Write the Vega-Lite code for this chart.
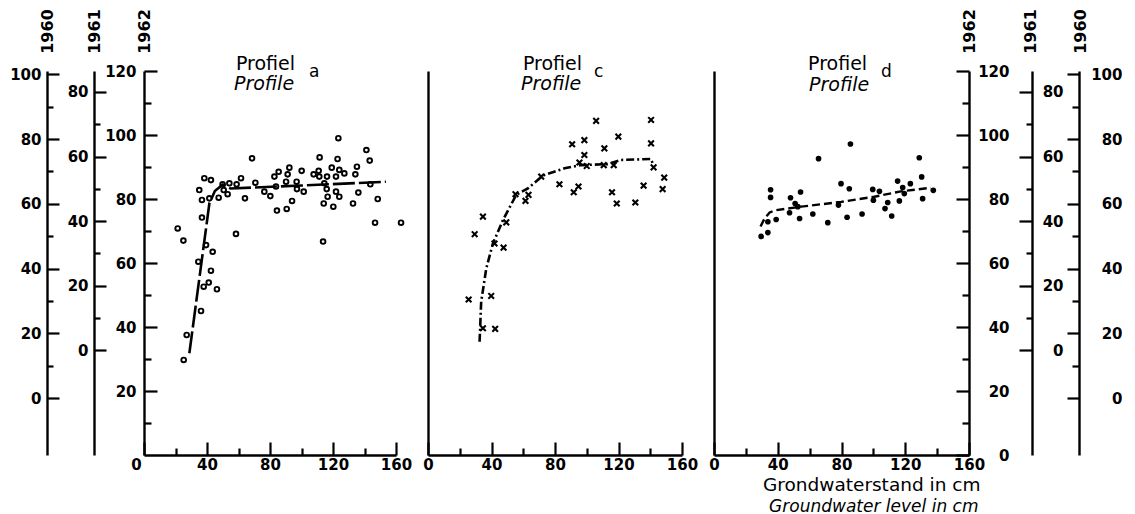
{
  "$schema": "https://vega.github.io/schema/vega-lite/v6.json",
  "padding": {"left": 9, "top": 8, "right": 0, "bottom": 0},
  "spacing": 32,
  "bounds": "flush",
  "datasets": {
    "ap": [
      {"x": 21.4, "y": 70.8}, {"x": 25, "y": 67}, {"x": 25.2, "y": 29.7}, {"x": 27.1, "y": 37.5},
      {"x": 35.1, "y": 82.8}, {"x": 36.8, "y": 79.7}, {"x": 36.8, "y": 74.2}, {"x": 38.3, "y": 86.5},
      {"x": 42.5, "y": 85.9}, {"x": 34.5, "y": 60.4}, {"x": 39.4, "y": 65.6}, {"x": 43.6, "y": 63.5},
      {"x": 42.5, "y": 57.6}, {"x": 41.1, "y": 53.9}, {"x": 37.9, "y": 52.6}, {"x": 46.3, "y": 51.8},
      {"x": 36.2, "y": 45}, {"x": 41.5, "y": 80.2}, {"x": 47.4, "y": 80.4}, {"x": 49.9, "y": 84.6},
      {"x": 50.6, "y": 82.8}, {"x": 53.1, "y": 81.5}, {"x": 54.2, "y": 84.9}, {"x": 58.8, "y": 84.6},
      {"x": 61.6, "y": 86.5}, {"x": 58.4, "y": 69.1}, {"x": 64.1, "y": 80.2}, {"x": 68.6, "y": 92.7},
      {"x": 70.7, "y": 85.1}, {"x": 76.4, "y": 82.3}, {"x": 80.2, "y": 80.9}, {"x": 83.8, "y": 83.9},
      {"x": 82.8, "y": 87}, {"x": 85.5, "y": 88.5}, {"x": 84.4, "y": 76.4}, {"x": 90.6, "y": 76.9},
      {"x": 91.2, "y": 87.7}, {"x": 92.3, "y": 89.8}, {"x": 90.2, "y": 85.4}, {"x": 94, "y": 79.4},
      {"x": 96.9, "y": 85.4}, {"x": 97.1, "y": 83.1}, {"x": 100.1, "y": 88.8}, {"x": 101.4, "y": 82.3},
      {"x": 107.7, "y": 87.7}, {"x": 110.9, "y": 88.8}, {"x": 111.5, "y": 93}, {"x": 111.3, "y": 87},
      {"x": 114.5, "y": 84.9}, {"x": 114.1, "y": 78.6}, {"x": 113.7, "y": 66.7}, {"x": 116, "y": 83.1},
      {"x": 116.2, "y": 87}, {"x": 116.6, "y": 80.7}, {"x": 119.2, "y": 89.8}, {"x": 120.2, "y": 77.6},
      {"x": 121.9, "y": 87}, {"x": 121.9, "y": 82.3}, {"x": 122.9, "y": 92.5}, {"x": 123.4, "y": 99},
      {"x": 124, "y": 89.1}, {"x": 124, "y": 80.7}, {"x": 127.2, "y": 88}, {"x": 132.7, "y": 78.6},
      {"x": 134.2, "y": 87.7}, {"x": 135.2, "y": 90.1}, {"x": 136.1, "y": 82}, {"x": 141.2, "y": 95.3},
      {"x": 143.3, "y": 92}, {"x": 143.7, "y": 84.6}, {"x": 148.4, "y": 80}, {"x": 146.7, "y": 72.6},
      {"x": 163.2, "y": 72.6}
    ],
    "al": [
      {"x": 28.8, "y": 31.8}, {"x": 41.5, "y": 78.6}, {"x": 45, "y": 82.5}, {"x": 50, "y": 84.5},
      {"x": 55, "y": 83.3}, {"x": 100, "y": 84.2}, {"x": 153.6, "y": 85.4}
    ],
    "cp": [
      {"x": 25.6, "y": 48.6}, {"x": 29.4, "y": 69}, {"x": 34.6, "y": 74.5}, {"x": 34.6, "y": 39.6},
      {"x": 39.8, "y": 49.7}, {"x": 42.3, "y": 39.4}, {"x": 41.9, "y": 66.1}, {"x": 47.6, "y": 64.8},
      {"x": 49.3, "y": 72.7}, {"x": 55.1, "y": 81.5}, {"x": 61.4, "y": 79.4}, {"x": 63.3, "y": 81.3},
      {"x": 71.3, "y": 87}, {"x": 82.8, "y": 84.6}, {"x": 90.8, "y": 97.1}, {"x": 91.8, "y": 82.1},
      {"x": 94.8, "y": 83.9}, {"x": 95.4, "y": 91.4}, {"x": 98.5, "y": 98.4}, {"x": 98.5, "y": 93.75},
      {"x": 100, "y": 90.3}, {"x": 105.9, "y": 104.4}, {"x": 111.1, "y": 95.8}, {"x": 110.7, "y": 90.6},
      {"x": 117, "y": 90.6}, {"x": 119.9, "y": 99.5}, {"x": 115.9, "y": 82.1}, {"x": 118.9, "y": 78.6},
      {"x": 130.6, "y": 78.9}, {"x": 135.8, "y": 84.2}, {"x": 140.5, "y": 104.7}, {"x": 140.5, "y": 97.4},
      {"x": 142.1, "y": 89.9}, {"x": 148.8, "y": 86.7}, {"x": 147.8, "y": 83.1}
    ],
    "cl": [
      {"x": 32.5, "y": 35.4}, {"x": 33.5, "y": 47.9}, {"x": 36.7, "y": 58.3}, {"x": 40.9, "y": 66.1},
      {"x": 47.2, "y": 73.4}, {"x": 55.6, "y": 81.3}, {"x": 62.9, "y": 83.3}, {"x": 72.3, "y": 87.3},
      {"x": 86, "y": 89.6}, {"x": 96.4, "y": 90.6}, {"x": 113.2, "y": 90.9}, {"x": 121.6, "y": 92.2},
      {"x": 140.5, "y": 92.5}, {"x": 141.9, "y": 90.6}
    ],
    "dp": [
      {"x": 29.6, "y": 68.3}, {"x": 33.8, "y": 69.5}, {"x": 33.8, "y": 72.9}, {"x": 35.5, "y": 82.9},
      {"x": 35.5, "y": 80.5}, {"x": 39, "y": 73.6}, {"x": 48, "y": 80.4}, {"x": 47.4, "y": 75.7},
      {"x": 50.9, "y": 78.6}, {"x": 52.6, "y": 77.6}, {"x": 53.7, "y": 73.9}, {"x": 54.3, "y": 82.2},
      {"x": 62, "y": 75.3}, {"x": 65.6, "y": 92.6}, {"x": 71.4, "y": 72.6}, {"x": 78.1, "y": 78.1},
      {"x": 79.7, "y": 84.8}, {"x": 83.5, "y": 74.3}, {"x": 84.9, "y": 83.2}, {"x": 85.6, "y": 97.2},
      {"x": 92.9, "y": 75.3}, {"x": 99.6, "y": 83}, {"x": 100, "y": 79.6}, {"x": 103.8, "y": 82.4},
      {"x": 107.3, "y": 77}, {"x": 109, "y": 78.9}, {"x": 111.5, "y": 74.7}, {"x": 115.2, "y": 85.6},
      {"x": 116.3, "y": 79.4}, {"x": 118.4, "y": 83.6}, {"x": 119.4, "y": 81.7}, {"x": 123.2, "y": 84.8},
      {"x": 128.8, "y": 92.9}, {"x": 130.3, "y": 86.9}, {"x": 130.9, "y": 80.1}, {"x": 137.6, "y": 82.7}
    ],
    "dl": [
      {"x": 29.2, "y": 71.4}, {"x": 31.7, "y": 73.9}, {"x": 34.9, "y": 75.8}, {"x": 39, "y": 76.5},
      {"x": 54.7, "y": 77.6}, {"x": 79.7, "y": 79.1}, {"x": 100.6, "y": 80.7}, {"x": 117.3, "y": 82.4},
      {"x": 136.1, "y": 83.5}
    ],
    "one": [{}]
  },
  "hconcat": [
    {
      "width": 252,
      "height": 384,
      "layer": [
        {
          "data": {"name": "ap"},
          "mark": {"type": "point", "shape": "circle", "filled": false, "stroke": "#000", "strokeWidth": 1.9, "size": 22, "opacity": 1},
          "encoding": {
            "x": {"field": "x", "type": "quantitative", "scale": {"domain": [0, 160], "nice": false, "zero": false},
              "axis": {"orient": "bottom", "values": [0, 40, 80, 120, 160], "tickSize": -13, "labelPadding": 15, "title": null,
                "labelOffset": {"condition": {"test": "datum.value === 0", "value": -8}, "value": 0}}},
            "y": {"field": "y", "type": "quantitative", "scale": {"domain": [0, 120], "nice": false, "zero": false},
              "axis": {"orient": "left", "values": [20, 40, 60, 80, 100, 120], "tickSize": -13, "labelPadding": 21,
                "title": "1962", "titleAngle": 270, "titleX": 0, "titleY": -40, "titleAlign": "center", "titleBaseline": "middle"}}
          }
        },
        {
          "data": {"name": "al"},
          "mark": {"type": "line", "stroke": "#000", "strokeWidth": 2.6, "strokeDash": [22, 4]},
          "encoding": {
            "x": {"field": "x", "type": "quantitative", "scale": {"domain": [0, 160], "nice": false, "zero": false},
              "axis": {"orient": "bottom", "values": [20, 60, 100, 140], "tickSize": -7, "labels": false, "domain": false, "title": null}},
            "y": {"field": "y", "type": "quantitative", "scale": {"domain": [0, 120], "nice": false, "zero": false},
              "axis": {"orient": "left", "values": [10, 30, 50, 70, 90, 110], "tickSize": -7, "labels": false, "domain": false, "title": null}}
          }
        },
        {
          "data": {"name": "al"},
          "mark": {"type": "point", "opacity": 0},
          "encoding": {
            "x": {"field": "x", "type": "quantitative", "scale": {"domain": [0, 160], "nice": false, "zero": false}, "axis": null},
            "y": {"field": "y", "type": "quantitative", "scale": {"domain": [-32.5, 86.5], "nice": false, "zero": false},
              "axis": {"orient": "left", "offset": 50, "values": [0, 20, 40, 60, 80], "tickSize": -12, "labelPadding": 18,
                "title": "1961", "titleAngle": 270, "titleX": 0, "titleY": -40, "titleAlign": "center", "titleBaseline": "middle"}}
          }
        },
        {
          "data": {"name": "al"},
          "mark": {"type": "point", "opacity": 0},
          "encoding": {
            "x": {"field": "x", "type": "quantitative", "scale": {"domain": [0, 160], "nice": false, "zero": false}, "axis": null},
            "y": {"field": "y", "type": "quantitative", "scale": {"domain": [-32.5, 86.5], "nice": false, "zero": false},
              "axis": {"orient": "left", "offset": 50, "values": [10, 30, 50, 70], "tickSize": -6, "labels": false, "domain": false, "title": null}}
          }
        },
        {
          "data": {"name": "al"},
          "mark": {"type": "point", "opacity": 0},
          "encoding": {
            "x": {"field": "x", "type": "quantitative", "scale": {"domain": [0, 160], "nice": false, "zero": false}, "axis": null},
            "y": {"field": "y", "type": "quantitative", "scale": {"domain": [-17.5, 101], "nice": false, "zero": false},
              "axis": {"orient": "left", "offset": 97, "values": [0, 20, 40, 60, 80, 100], "tickSize": -12, "labelPadding": 18,
                "title": "1960", "titleAngle": 270, "titleX": 0, "titleY": -40, "titleAlign": "center", "titleBaseline": "middle"}}
          }
        },
        {
          "data": {"name": "al"},
          "mark": {"type": "point", "opacity": 0},
          "encoding": {
            "x": {"field": "x", "type": "quantitative", "scale": {"domain": [0, 160], "nice": false, "zero": false}, "axis": null},
            "y": {"field": "y", "type": "quantitative", "scale": {"domain": [-17.5, 101], "nice": false, "zero": false},
              "axis": {"orient": "left", "offset": 97, "values": [10, 30, 50, 70, 90], "tickSize": -6, "labels": false, "domain": false, "title": null}}
          }
        },
        {
          "data": {"name": "one"},
          "mark": {"type": "text", "text": "Profiel", "align": "left", "baseline": "alphabetic", "fontSize": 19},
          "encoding": {
            "x": {"datum": 58.4, "type": "quantitative", "scale": {"domain": [0, 160], "nice": false, "zero": false}, "axis": null},
            "y": {"datum": 120.3, "type": "quantitative", "scale": {"domain": [0, 120], "nice": false, "zero": false}, "axis": null}
          }
        },
        {
          "data": {"name": "one"},
          "mark": {"type": "text", "text": "Profile", "align": "left", "baseline": "alphabetic", "fontSize": 19, "fontStyle": "italic"},
          "encoding": {
            "x": {"datum": 57.1, "type": "quantitative", "scale": {"domain": [0, 160], "nice": false, "zero": false}, "axis": null},
            "y": {"datum": 114, "type": "quantitative", "scale": {"domain": [0, 120], "nice": false, "zero": false}, "axis": null}
          }
        },
        {
          "data": {"name": "one"},
          "mark": {"type": "text", "text": "a", "align": "left", "baseline": "alphabetic", "fontSize": 17},
          "encoding": {
            "x": {"datum": 104.8, "type": "quantitative", "scale": {"domain": [0, 160], "nice": false, "zero": false}, "axis": null},
            "y": {"datum": 118, "type": "quantitative", "scale": {"domain": [0, 120], "nice": false, "zero": false}, "axis": null}
          }
        }
      ],
      "resolve": {"scale": {"y": "independent"}, "axis": {"x": "independent", "y": "independent"}}
    },
    {
      "width": 254,
      "height": 384,
      "layer": [
        {
          "data": {"name": "cp"},
          "mark": {"type": "point", "shape": "M-1,-1L1,1M-1,1L1,-1", "filled": false, "stroke": "#000", "strokeWidth": 2.1, "size": 32, "opacity": 1},
          "encoding": {
            "x": {"field": "x", "type": "quantitative", "scale": {"domain": [0, 160], "nice": false, "zero": false},
              "axis": {"orient": "bottom", "values": [0, 40, 80, 120, 160], "tickSize": -13, "labelPadding": 15, "title": null}},
            "y": {"field": "y", "type": "quantitative", "scale": {"domain": [0, 120], "nice": false, "zero": false},
              "axis": {"orient": "left", "ticks": false, "labels": false, "title": null}}
          }
        },
        {
          "data": {"name": "cl"},
          "mark": {"type": "line", "stroke": "#000", "strokeWidth": 2.6, "strokeDash": [8, 3, 2, 3]},
          "encoding": {
            "x": {"field": "x", "type": "quantitative", "scale": {"domain": [0, 160], "nice": false, "zero": false},
              "axis": {"orient": "bottom", "values": [20, 60, 100, 140], "tickSize": -7, "labels": false, "domain": false, "title": null}},
            "y": {"field": "y", "type": "quantitative", "scale": {"domain": [0, 120], "nice": false, "zero": false}, "axis": null}
          }
        },
        {
          "data": {"name": "one"},
          "mark": {"type": "text", "text": "Profiel", "align": "left", "baseline": "alphabetic", "fontSize": 19},
          "encoding": {
            "x": {"datum": 59.8, "type": "quantitative", "scale": {"domain": [0, 160], "nice": false, "zero": false}, "axis": null},
            "y": {"datum": 120.3, "type": "quantitative", "scale": {"domain": [0, 120], "nice": false, "zero": false}, "axis": null}
          }
        },
        {
          "data": {"name": "one"},
          "mark": {"type": "text", "text": "Profile", "align": "left", "baseline": "alphabetic", "fontSize": 19, "fontStyle": "italic"},
          "encoding": {
            "x": {"datum": 58.6, "type": "quantitative", "scale": {"domain": [0, 160], "nice": false, "zero": false}, "axis": null},
            "y": {"datum": 114, "type": "quantitative", "scale": {"domain": [0, 120], "nice": false, "zero": false}, "axis": null}
          }
        },
        {
          "data": {"name": "one"},
          "mark": {"type": "text", "text": "c", "align": "left", "baseline": "alphabetic", "fontSize": 17},
          "encoding": {
            "x": {"datum": 104.6, "type": "quantitative", "scale": {"domain": [0, 160], "nice": false, "zero": false}, "axis": null},
            "y": {"datum": 118, "type": "quantitative", "scale": {"domain": [0, 120], "nice": false, "zero": false}, "axis": null}
          }
        }
      ],
      "resolve": {"scale": {"y": "independent"}, "axis": {"x": "independent", "y": "independent"}}
    },
    {
      "width": 255,
      "height": 384,
      "layer": [
        {
          "data": {"name": "dp"},
          "mark": {"type": "point", "shape": "circle", "filled": true, "color": "#000", "size": 32, "opacity": 1},
          "encoding": {
            "x": {"field": "x", "type": "quantitative", "scale": {"domain": [0, 160], "nice": false, "zero": false},
              "axis": {"orient": "bottom", "values": [0, 40, 80, 120, 160], "tickSize": -13, "labelPadding": 15,
                "title": "Grondwaterstand in cm", "titleFontSize": 18.5, "titleFontWeight": "normal", "titleX": 266, "titleY": 35, "titleAlign": "right", "titleBaseline": "alphabetic", "titleAnchor": "end"}},
            "y": {"field": "y", "type": "quantitative", "scale": {"domain": [0, 120], "nice": false, "zero": false},
              "axis": {"orient": "left", "ticks": false, "labels": false, "title": null}}
          }
        },
        {
          "data": {"name": "dl"},
          "mark": {"type": "line", "stroke": "#000", "strokeWidth": 2.4, "strokeDash": [8, 4]},
          "encoding": {
            "x": {"field": "x", "type": "quantitative", "scale": {"domain": [0, 160], "nice": false, "zero": false},
              "axis": {"orient": "bottom", "values": [20, 60, 100, 140], "tickSize": -7, "labels": false, "domain": false,
                "title": "Groundwater level in cm", "titleFontSize": 17, "titleFontWeight": "normal", "titleFontStyle": "italic", "titleX": 264, "titleY": 56, "titleAlign": "right", "titleBaseline": "alphabetic", "titleAnchor": "end"}},
            "y": {"field": "y", "type": "quantitative", "scale": {"domain": [0, 120], "nice": false, "zero": false},
              "axis": {"orient": "right", "values": [0, 20, 40, 60, 80, 100, 120], "tickSize": -13, "labelPadding": 53, "labelAlign": "right",
                "title": "1962", "titleAngle": 270, "titleX": 0, "titleY": -40, "titleAlign": "center", "titleBaseline": "middle"}}
          }
        },
        {
          "data": {"name": "dl"},
          "mark": {"type": "point", "opacity": 0},
          "encoding": {
            "x": {"field": "x", "type": "quantitative", "scale": {"domain": [0, 160], "nice": false, "zero": false}, "axis": null},
            "y": {"field": "y", "type": "quantitative", "scale": {"domain": [0, 120], "nice": false, "zero": false},
              "axis": {"orient": "right", "values": [10, 30, 50, 70, 90, 110], "tickSize": -7, "labels": false, "domain": false, "title": null}}
          }
        },
        {
          "data": {"name": "dl"},
          "mark": {"type": "point", "opacity": 0},
          "encoding": {
            "x": {"field": "x", "type": "quantitative", "scale": {"domain": [0, 160], "nice": false, "zero": false}, "axis": null},
            "y": {"field": "y", "type": "quantitative", "scale": {"domain": [-32.5, 86.5], "nice": false, "zero": false},
              "axis": {"orient": "right", "offset": 63, "values": [0, 20, 40, 60, 80], "tickSize": -13, "labelPadding": 44, "labelAlign": "right",
                "title": "1961", "titleAngle": 270, "titleX": -2, "titleY": -40, "titleAlign": "center", "titleBaseline": "middle"}}
          }
        },
        {
          "data": {"name": "dl"},
          "mark": {"type": "point", "opacity": 0},
          "encoding": {
            "x": {"field": "x", "type": "quantitative", "scale": {"domain": [0, 160], "nice": false, "zero": false}, "axis": null},
            "y": {"field": "y", "type": "quantitative", "scale": {"domain": [-32.5, 86.5], "nice": false, "zero": false},
              "axis": {"orient": "right", "offset": 63, "values": [10, 30, 50, 70], "tickSize": -6, "labels": false, "domain": false, "title": null}}
          }
        },
        {
          "data": {"name": "dl"},
          "mark": {"type": "point", "opacity": 0},
          "encoding": {
            "x": {"field": "x", "type": "quantitative", "scale": {"domain": [0, 160], "nice": false, "zero": false}, "axis": null},
            "y": {"field": "y", "type": "quantitative", "scale": {"domain": [-17.5, 101], "nice": false, "zero": false},
              "axis": {"orient": "right", "offset": 110, "values": [0, 20, 40, 60, 80, 100], "tickSize": -12, "labelPadding": 55, "labelAlign": "right",
                "title": "1960", "titleAngle": 270, "titleX": 1, "titleY": -40, "titleAlign": "center", "titleBaseline": "middle"}}
          }
        },
        {
          "data": {"name": "dl"},
          "mark": {"type": "point", "opacity": 0},
          "encoding": {
            "x": {"field": "x", "type": "quantitative", "scale": {"domain": [0, 160], "nice": false, "zero": false}, "axis": null},
            "y": {"field": "y", "type": "quantitative", "scale": {"domain": [-17.5, 101], "nice": false, "zero": false},
              "axis": {"orient": "right", "offset": 110, "values": [10, 30, 50, 70, 90], "tickSize": -7, "labels": false, "domain": false, "title": null}}
          }
        },
        {
          "data": {"name": "one"},
          "mark": {"type": "text", "text": "Profiel", "align": "left", "baseline": "alphabetic", "fontSize": 19},
          "encoding": {
            "x": {"datum": 59, "type": "quantitative", "scale": {"domain": [0, 160], "nice": false, "zero": false}, "axis": null},
            "y": {"datum": 120.3, "type": "quantitative", "scale": {"domain": [0, 120], "nice": false, "zero": false}, "axis": null}
          }
        },
        {
          "data": {"name": "one"},
          "mark": {"type": "text", "text": "Profile", "align": "left", "baseline": "alphabetic", "fontSize": 19, "fontStyle": "italic"},
          "encoding": {
            "x": {"datum": 59.6, "type": "quantitative", "scale": {"domain": [0, 160], "nice": false, "zero": false}, "axis": null},
            "y": {"datum": 113.6, "type": "quantitative", "scale": {"domain": [0, 120], "nice": false, "zero": false}, "axis": null}
          }
        },
        {
          "data": {"name": "one"},
          "mark": {"type": "text", "text": "d", "align": "left", "baseline": "alphabetic", "fontSize": 17},
          "encoding": {
            "x": {"datum": 104.8, "type": "quantitative", "scale": {"domain": [0, 160], "nice": false, "zero": false}, "axis": null},
            "y": {"datum": 118, "type": "quantitative", "scale": {"domain": [0, 120], "nice": false, "zero": false}, "axis": null}
          }
        }
      ],
      "resolve": {"scale": {"y": "independent"}, "axis": {"x": "independent", "y": "independent"}}
    }
  ],
  "config": {
    "view": {"stroke": null},
    "axis": {
      "grid": false,
      "domainColor": "#000",
      "domainWidth": 2.4,
      "tickColor": "#000",
      "tickWidth": 2.2,
      "labelColor": "#000",
      "labelFont": "DejaVu Sans",
      "labelFontSize": 15,
      "labelFontWeight": "bold",
      "labelFlush": false,
      "labelOverlap": false,
      "titleFont": "DejaVu Sans",
      "titleFontSize": 16,
      "titleFontWeight": "bold",
      "titleColor": "#000"
    },
    "text": {"font": "DejaVu Sans", "color": "#000"}
  }
}
